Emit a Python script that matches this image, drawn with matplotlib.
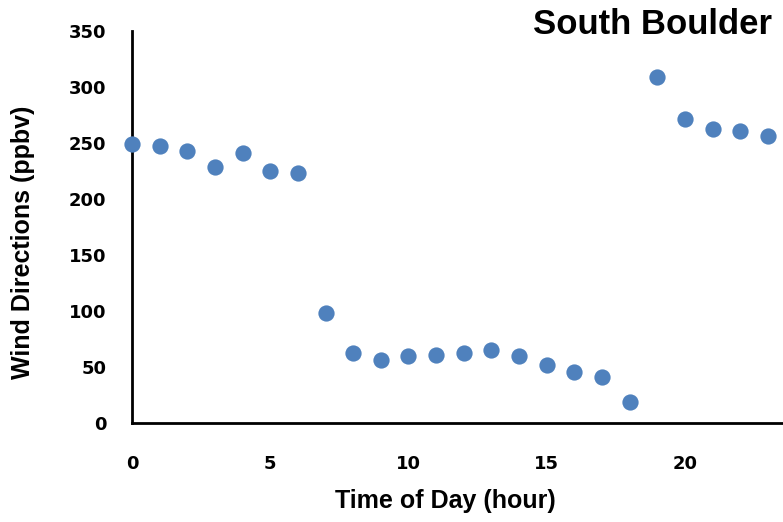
"""
Hourly wind direction at South Boulder (scatter, Excel-style look).
"""

import numpy as np
import matplotlib
matplotlib.use("Agg")
import matplotlib.pyplot as plt

# ---- data ----
hours = list(range(24))
wind_dir = [249, 247, 243, 229, 241, 225, 223, 98, 62.5, 56, 60, 61,
            62.5, 65, 60, 52, 45.5, 41, 19, 309, 271, 262.5, 261, 256]
x_ticks = [0, 5, 10, 15, 20]
y_ticks = [0, 50, 100, 150, 200, 250, 300, 350]

TITLE = "South Boulder"
XLABEL = "Time of Day (hour)"
YLABEL = "Wind Directions (ppbv)"
DOT = "#4F81BD"

fig = plt.figure(figsize=(7.83, 5.22), dpi=100)
ax = fig.add_axes([132 / 783, 99 / 522, 651 / 783, 392 / 522])

ax.scatter(hours, wind_dir, s=137, color=DOT, zorder=3, clip_on=False,
           linewidths=0)

ax.set_xlim(0, 23.55)
ax.set_ylim(0, 350)
ax.set_xticks(x_ticks)
ax.set_yticks(y_ticks)
ax.tick_params(length=0)
ax.tick_params(axis="y", pad=18.5)
ax.tick_params(axis="x", pad=23)
for lbl in ax.get_xticklabels() + ax.get_yticklabels():
    lbl.set_family("DejaVu Sans")
    lbl.set_fontweight("bold")
    lbl.set_fontsize(13)

ax.spines[["top", "right"]].set_visible(False)
for side in ("left", "bottom"):
    ax.spines[side].set_linewidth(2)
    ax.spines[side].set_color("black")

ax.set_xlabel(XLABEL, family="Liberation Sans", fontweight="bold",
              fontsize=18, va="center")
ax.xaxis.set_label_coords(0.482, -0.200)
ax.set_ylabel(YLABEL, family="Liberation Sans", fontweight="bold",
              fontsize=18, va="center")
ax.yaxis.set_label_coords(-0.1674, 0.462)

fig.text(772 / 783, 1 - 25 / 522, TITLE, family="Liberation Sans",
         fontweight="bold", fontsize=25, ha="right", va="center")

fig.savefig("out.png", dpi=100)
